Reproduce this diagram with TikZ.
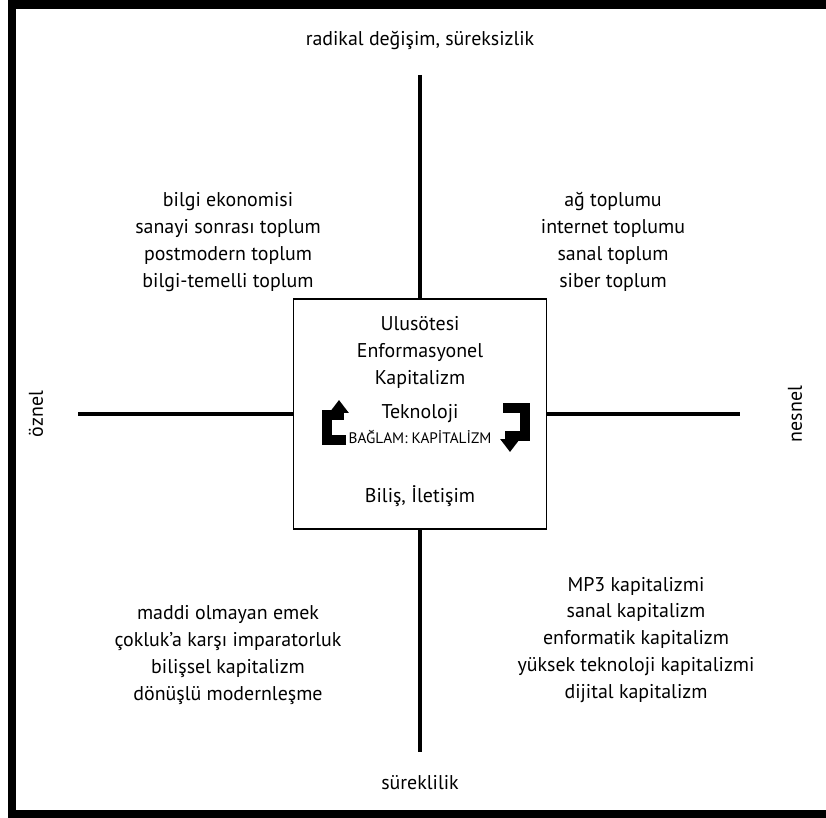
\documentclass[tikz,border=0pt]{standalone}
\usepackage{fontspec}
\setmainfont{PT Sans}
\usetikzlibrary{arrows.meta}
\tikzset{
  cerceve/.style={draw=black, line width=7.4pt},
  eksen/.style={draw=black, line width=3.4pt},
  kutu/.style={rectangle, draw=black, line width=1.3pt, minimum width=7.6cm, minimum height=6.9cm, inner sep=0pt},
  metin/.style={align=center, font=\fontsize{17}{23}\selectfont, inner sep=0pt},
  kucuk/.style={align=center, font=\fontsize{13}{15}\selectfont, inner sep=0pt},
  donus/.style={draw=black, line width=8.5pt, line join=miter, -{Triangle[length=11pt, width=16pt]}},
}

\begin{document}
\begin{tikzpicture}[x=0.03cm, y=-0.03cm]
  \useasboundingbox (0,0) rectangle (826,818);
  \clip (0,0) rectangle (826,818);

  % ---------------- cerceve ----------------
  \draw[cerceve] (12,4.5) rectangle (840,814);

  % ---------------- orta kutu ve eksenler ----------------
  \node[kutu] (kutu) at (420,414) {};
  \coordinate (ust) at (420,75);
  \coordinate (alt) at (420,752);
  \coordinate (sol) at (78,414);
  \coordinate (sag) at (740,414);
  \draw[eksen] (ust) -- (kutu.north);
  \draw[eksen] (kutu.south) -- (alt);
  \draw[eksen] (sol) -- (kutu.west);
  \draw[eksen] (kutu.east) -- (sag);

  % ---------------- eksen etiketleri ----------------
  \node[metin] (radikal) at (420,40) {radikal değişim, süreksizlik};
  \node[metin] (sureklilik) at (420,783) {süreklilik};
  \node[metin, rotate=90] (oznel) at (36,414) {öznel};
  \node[metin, rotate=90] (nesnel) at (795,414) {nesnel};

  % ---------------- kutu icerigi ----------------
  \node[metin] (baslik) at (420,352) {Ulusötesi\\Enformasyonel\\Kapitalizm};
  \node[metin] (teknoloji) at (420,414) {Teknoloji};
  \node[kucuk] (baglam) at (420,437) {BAĞLAM: KAPİTALİZM};
  \node[metin] (bilis) at (420,496) {Biliş, İletişim};
  \draw[donus] (346,440) -- (327,440) -- (327,415) -- (339,415) -- (339,400);
  \draw[donus] (503,408) -- (525,408) -- (525,436) -- (510,436) -- (510,452);

  % ---------------- dortte birler ----------------
  \node[metin] (solust) at (228,242) {bilgi ekonomisi\\sanayi sonrası toplum\\postmodern toplum\\bilgi-temelli toplum};
  \node[metin] (sagust) at (613,242) {ağ toplumu\\internet toplumu\\sanal toplum\\siber toplum};
  \node[metin] (solalt) at (228,655) {maddi olmayan emek\\çokluk’a karşı imparatorluk\\bilişsel kapitalizm\\dönüşlü modernleşme};
  \node[metin] (sagalt) at (636,640) {MP3 kapitalizmi\\sanal kapitalizm\\enformatik kapitalizm\\yüksek teknoloji kapitalizmi\\dijital kapitalizm};
\end{tikzpicture}
\end{document}
